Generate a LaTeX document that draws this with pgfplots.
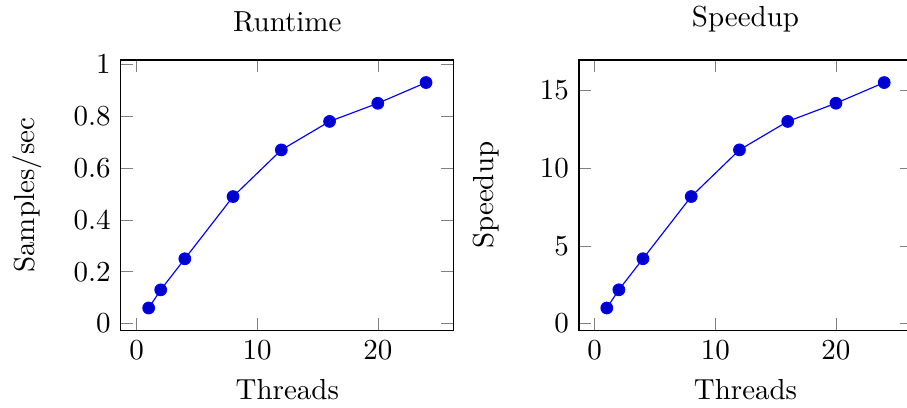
\documentclass[border=0pt]{standalone}
\usepackage{pgfplots}
\pgfplotsset{compat=1.18}
\begin{document}
\begin{tikzpicture}
\pgfplotsset{
  every axis/.append style={
    scale only axis,
    width=114.8pt, height=93.3pt,
    xlabel={Threads},
    ylabel style={at={(axis description cs:-0.208,0.5)}, anchor=south},
  },
}
\begin{axis}[
  title={Runtime},
  ylabel={Samples/sec},
]
\addplot coordinates {
(1,0.06) (2,0.13) (4,0.25) (8,0.49) (12,0.67) (16,0.78) (20,0.85) (24,0.93)
};
\end{axis}
\begin{axis}[
  at={(158pt,0)},
  title={Speedup},
  ylabel={Speedup},
]
\addplot coordinates {
(1,1) (2,2.17) (4,4.17) (8,8.17) (12,11.17) (16,13) (20,14.17) (24,15.5)
};
\end{axis}
\pgfresetboundingbox
\path (-41.7pt,-26.7pt) rectangle (271.1pt,114pt);
\end{tikzpicture}
\end{document}
